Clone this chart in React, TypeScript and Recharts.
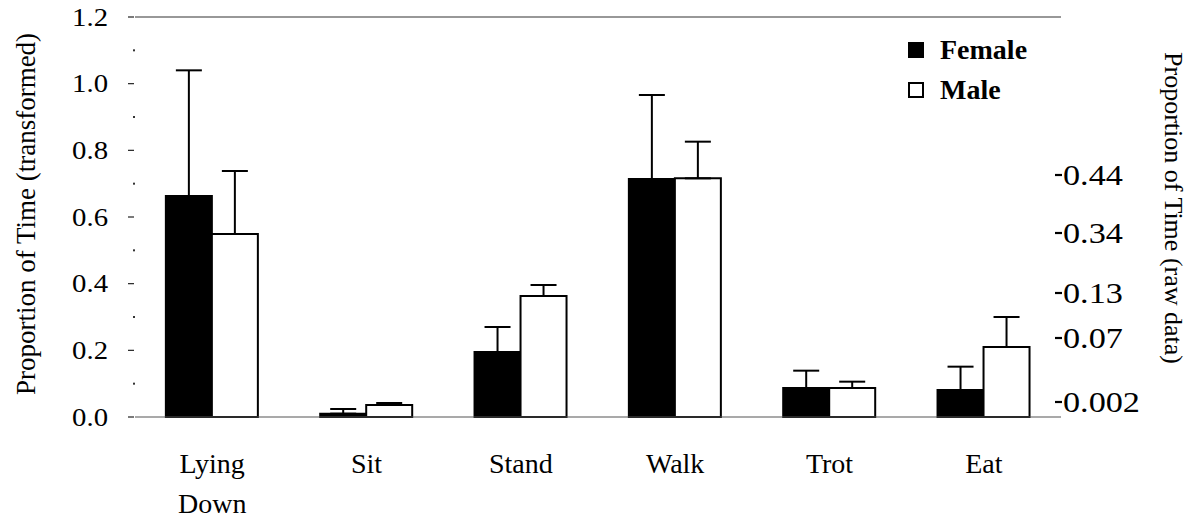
import React from 'react';
import { BarChart, Bar, XAxis, YAxis, ErrorBar, ReferenceLine, Legend } from 'recharts';

const categories = ['Lying Down', 'Sit', 'Stand', 'Walk', 'Trot', 'Eat'];
const femaleMeans = [0.663, 0.01, 0.195, 0.714, 0.087, 0.081];
const femaleUpper = [1.04, 0.024, 0.27, 0.966, 0.139, 0.151];
const maleMeans = [0.549, 0.036, 0.363, 0.716, 0.087, 0.21];
const maleUpper = [0.738, 0.042, 0.396, 0.826, 0.106, 0.3];

const leftTicks = [0, 0.1, 0.2, 0.3, 0.4, 0.5, 0.6, 0.7, 0.8, 0.9, 1.0, 1.1, 1.2];
const rightTickPositions = [0.045, 0.237, 0.372, 0.552, 0.726];
const rightTickLabels = ['0.002', '0.07', '0.13', '0.34', '0.44'];

const FONT = 'Liberation Serif';

const data = categories.map((name, i) => ({
  name,
  female: femaleMeans[i],
  male: maleMeans[i],
  femaleErr: [0, femaleUpper[i] - femaleMeans[i]],
  maleErr: [0, maleUpper[i] - maleMeans[i]],
}));

// the scanned figure is a bit wider than tall, so numbers get a small horizontal stretch
function LeftTick({ x, y, payload }: any) {
  const v = payload.value;
  const major = Math.round(v * 10) % 2 === 0;
  if (!major) {
    return <rect x={x - 2} y={y - 1} width={2} height={2} fill="#333" />;
  }
  return (
    <g>
      <line x1={x - 7} x2={x - 1} y1={y} y2={y} stroke="#222" strokeWidth={1.2} />
      <g transform={`translate(${x - 27},${y}) scale(1.15,1)`}>
        <text x={0} y={0} dy="0.35em" textAnchor="end" fontSize={25} fontFamily={FONT} fill="#000">
          {v.toFixed(1)}
        </text>
      </g>
    </g>
  );
}

function RightTick({ x, y, payload }: any) {
  const idx = rightTickPositions.indexOf(payload.value);
  return (
    <g>
      <line x1={x - 6} x2={x + 1} y1={y} y2={y} stroke="#000" strokeWidth={2.2} />
      <g transform={`translate(${x + 2},${y}) scale(1.18,1)`}>
        <text x={0} y={0} dy="0.35em" textAnchor="start" fontSize={29} fontFamily={FONT} fill="#000">
          {rightTickLabels[idx]}
        </text>
      </g>
    </g>
  );
}

function CategoryTick({ x, y, payload }: any) {
  const lines = String(payload.value).split(' ');
  return (
    <text x={x} y={y + 56} textAnchor="middle" fontSize={28} fontFamily={FONT} fill="#000">
      {lines.map((l, i) => (
        <tspan key={l} x={x} dy={i === 0 ? 0 : 40}>
          {l}
        </tspan>
      ))}
    </text>
  );
}

function LegendBox() {
  const items = [
    { label: 'Female', fill: '#000' },
    { label: 'Male', fill: '#fff' },
  ];
  return (
    <div style={{ fontFamily: FONT, fontWeight: 'bold', fontSize: 28, lineHeight: '40px' }}>
      {items.map((it) => (
        <div key={it.label} style={{ display: 'flex', alignItems: 'center' }}>
          <span
            style={{
              display: 'inline-block',
              boxSizing: 'border-box',
              width: 16,
              height: 16,
              background: it.fill,
              border: '2px solid #000',
              marginRight: 16,
            }}
          />
          {it.label}
        </div>
      ))}
    </div>
  );
}

export default function App() {
  return (
    <div
      style={{
        position: 'absolute',
        left: 0,
        top: 0,
        width: 1195,
        height: 520,
        background: '#fff',
        fontFamily: FONT,
      }}
    >
      <BarChart
        width={1195}
        height={520}
        data={data}
        margin={{ top: 17, right: 34, bottom: 43, left: 10 }}
        barCategoryGap="20%"
        barGap={0}
      >
        <XAxis
          dataKey="name"
          axisLine={{ stroke: '#555', strokeWidth: 1.2 }}
          tickLine={false}
          tickSize={0}
          tickMargin={0}
          height={60}
          interval={0}
          tick={<CategoryTick />}
        />
        <YAxis
          yAxisId="left"
          domain={[0, 1.2]}
          ticks={leftTicks}
          interval={0}
          width={125}
          axisLine={false}
          tickLine={false}
          tickSize={0}
          tickMargin={0}
          tick={<LeftTick />}
          label={() => (
            <text
              x={26}
              y={214}
              transform="rotate(-90 26 214)"
              textAnchor="middle"
              dominantBaseline="central"
              fontSize={27}
              fontFamily={FONT}
              fill="#000"
            >
              Proportion of Time (transformed)
            </text>
          )}
        />
        <YAxis
          yAxisId="right"
          orientation="right"
          domain={[0, 1.2]}
          allowDataOverflow
          ticks={rightTickPositions}
          interval={0}
          width={100}
          axisLine={false}
          tickLine={false}
          tickSize={0}
          tickMargin={0}
          tick={<RightTick />}
          label={() => (
            <text
              x={1173}
              y={208}
              transform="rotate(90 1173 208)"
              textAnchor="middle"
              dominantBaseline="central"
              fontSize={26}
              fontFamily={FONT}
              fill="#000"
            >
              Proportion of Time (raw data)
            </text>
          )}
        />
        <ReferenceLine yAxisId="left" y={1.2} stroke="#333" strokeWidth={1.2} />
        <Legend
          layout="vertical"
          align="center"
          verticalAlign="middle"
          wrapperStyle={{ left: 908, top: 30, width: 160 }}
          content={<LegendBox />}
        />
        <Bar yAxisId="left" dataKey="female" name="Female" fill="#000" stroke="#000" strokeWidth={2} isAnimationActive={false}>
          <ErrorBar dataKey="femaleErr" direction="y" width={13} stroke="#000" strokeWidth={2} isAnimationActive={false} />
        </Bar>
        <Bar yAxisId="left" dataKey="male" name="Male" fill="#fff" stroke="#000" strokeWidth={2} isAnimationActive={false}>
          <ErrorBar dataKey="maleErr" direction="y" width={13} stroke="#000" strokeWidth={2} isAnimationActive={false} />
        </Bar>
      </BarChart>
    </div>
  );
}
